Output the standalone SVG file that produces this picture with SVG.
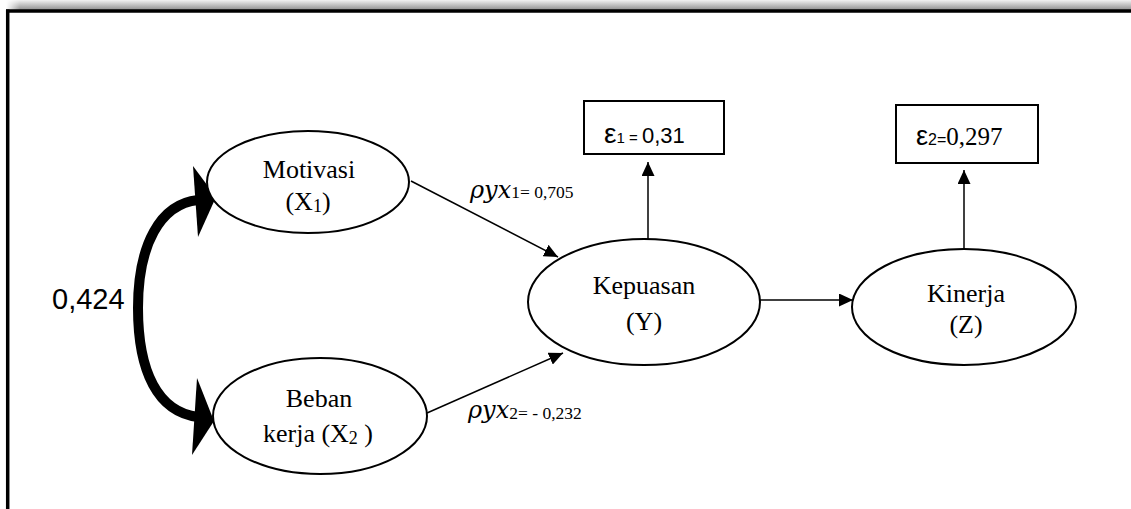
<svg xmlns="http://www.w3.org/2000/svg" width="1131" height="509" viewBox="0 0 1131 509">
  <defs>
    <linearGradient id="shade" x1="0" y1="0" x2="0" y2="1">
      <stop offset="0" stop-color="#f2f2f2"/>
      <stop offset="1" stop-color="#8f8f8f"/>
    </linearGradient>
    <linearGradient id="fadeL" x1="0" y1="0" x2="1" y2="0">
      <stop offset="0" stop-color="#ffffff"/>
      <stop offset="1" stop-color="#ffffff" stop-opacity="0"/>
    </linearGradient>
    <marker id="ah" markerWidth="14" markerHeight="13" refX="14" refY="6.5" orient="auto" markerUnits="userSpaceOnUse">
      <path d="M0,0 L14,6.5 L0,13 z" fill="#000"/>
    </marker>
    <style>
      .node ellipse { fill: #fff; stroke: #000; stroke-width: 2; }
      .box rect { fill: #fff; stroke: #000; stroke-width: 2; }
      .lbl { font-family: "Liberation Serif", "Times New Roman", serif; font-size: 26px; fill: #000; text-anchor: middle; }
      .sans { font-family: "Liberation Sans", Arial, sans-serif; fill: #000; }
      .serif { font-family: "Liberation Serif", "Times New Roman", serif; fill: #000; }
      .math { font-family: "DejaVu Serif", "Liberation Serif", serif; font-style: italic; fill: #000; }
      .conn line { stroke: #000; stroke-width: 1.5; fill: none; marker-end: url(#ah); }
    </style>
  </defs>

  <rect x="0" y="0" width="1131" height="509" fill="#fff"/>
  <!-- frame -->
  <g id="frame">
    <rect x="6" y="0" width="1125" height="10" fill="url(#shade)"/>
    <rect x="6" y="0" width="14" height="10" fill="url(#fadeL)"/>
    <line x1="6" y1="11" x2="1131" y2="11" stroke="#000" stroke-width="3.5"/>
    <line x1="7.7" y1="9.5" x2="7.7" y2="509" stroke="#000" stroke-width="3.5"/>
  </g>

  <!-- connectors -->
  <g id="connectors" class="conn">
    <line x1="411" y1="181" x2="558" y2="257"/>
    <line x1="427" y1="413" x2="563" y2="353"/>
    <line x1="648" y1="239" x2="648" y2="162"/>
    <line x1="758" y1="300" x2="853" y2="300"/>
    <line x1="964" y1="249" x2="964" y2="170"/>
    <!-- correlation double arrow -->
    <path d="M198,200 C160,204 138,245 138,308 C138,372 158,412 198,417" fill="none" stroke="#000" stroke-width="10"/>
    <polygon points="216,197 193,166 198,237" fill="#000"/>
    <polygon points="214,421 197,378 192,455" fill="#000"/>
  </g>

  <g id="corr-label">
    <text class="sans" x="52" y="309" font-size="29">0,424</text>
  </g>

  <g id="lbl-p1">
    <text x="470" y="198"><tspan class="math" font-size="24">ρyx</tspan><tspan class="serif" font-size="17.5">1= 0,705</tspan></text>
  </g>
  <g id="lbl-p2">
    <text x="468" y="418"><tspan class="math" font-size="24">ρyx</tspan><tspan class="serif" font-size="17.5" dy="1">2= - 0,232</tspan></text>
  </g>

  <g id="motivasi" class="node">
    <ellipse cx="308" cy="182" rx="101" ry="51"/>
    <text class="lbl" x="309" y="178">Motivasi</text>
    <text class="lbl" x="308" y="210">(X<tspan font-size="18" dy="2">1</tspan><tspan dy="-2">)</tspan></text>
  </g>

  <g id="beban" class="node">
    <ellipse cx="320" cy="416" rx="107" ry="58"/>
    <text class="lbl" x="319" y="407">Beban</text>
    <text class="lbl" x="318" y="442">kerja (X<tspan font-size="18" dy="2">2</tspan><tspan dy="-2"> )</tspan></text>
  </g>

  <g id="kepuasan" class="node">
    <ellipse cx="644" cy="302" rx="116" ry="63"/>
    <text class="lbl" x="644" y="294">Kepuasan</text>
    <text class="lbl" x="644" y="330">(Y)</text>
  </g>

  <g id="kinerja" class="node">
    <ellipse cx="964" cy="307" rx="112" ry="58"/>
    <text class="lbl" x="966" y="302">Kinerja</text>
    <text class="lbl" x="966" y="333">(Z)</text>
  </g>

  <g id="e1" class="box">
    <rect x="584" y="101" width="140" height="53"/>
    <text x="604" y="143"><tspan class="sans" font-size="28">ε</tspan><tspan class="sans" font-size="15">1 = </tspan><tspan class="sans" font-size="22">0,31</tspan></text>
  </g>

  <g id="e2" class="box">
    <rect x="896" y="105" width="142" height="58"/>
    <text x="916" y="145"><tspan class="sans" font-size="27">ε</tspan><tspan class="sans" font-size="16">2=</tspan><tspan class="serif" font-size="25">0,297</tspan></text>
  </g>
</svg>
